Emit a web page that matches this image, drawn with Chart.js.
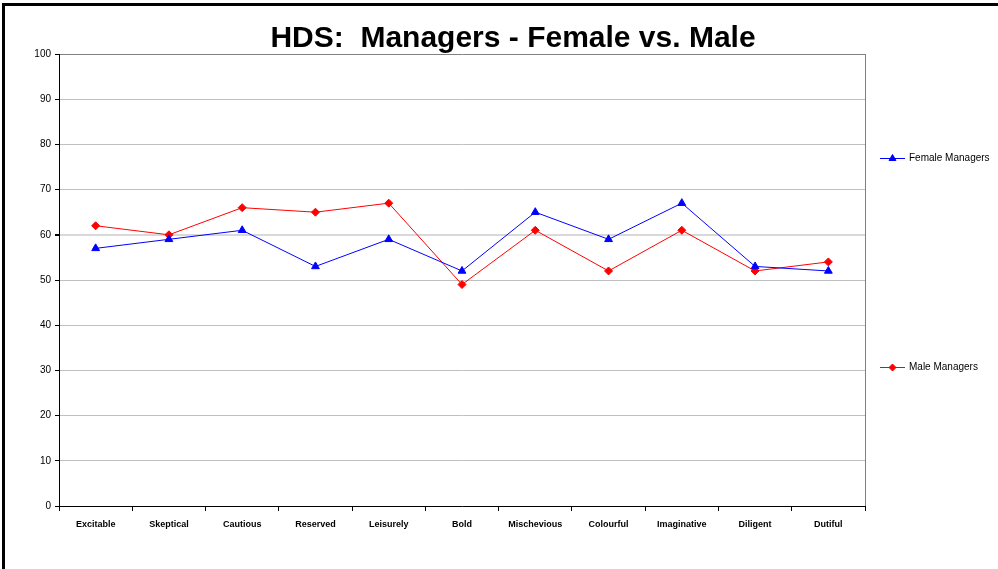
<!DOCTYPE html>
<html>
<head>
<meta charset="utf-8">
<script src="https://cdn.jsdelivr.net/npm/chart.js@4"></script>
<style>
  html, body { margin: 0; padding: 0; background: #fff; }
  #wrap { position: relative; width: 998px; height: 569px; }
</style>
</head>
<body>
<div id="wrap"><canvas id="hdsChart"></canvas></div>
<script>
// Scales / categories
const categories = ['Excitable', 'Skeptical', 'Cautious', 'Reserved', 'Leisurely', 'Bold',
    'Mischevious', 'Colourful', 'Imaginative', 'Diligent', 'Dutiful'];
const femaleManagers = [57, 59, 61, 53, 59, 52, 65, 59, 67, 53, 52];
const maleManagers = [62, 60, 66, 65, 67, 49, 61, 52, 61, 52, 54];
const yMin = 0;
const yMax = 100;
const yStep = 10;
const chartTitle = 'HDS:  Managers - Female vs. Male';

// frame, title, plot border and the odd spaced legend on the right
const extras = {
    id: 'extras',
    afterDraw(chart) {
        const ctx = chart.ctx;
        const area = chart.chartArea;
        ctx.save();
        // outer frame (top + left only, the rest is cut off)
        ctx.fillStyle = '#000';
        ctx.fillRect(2, 3, 996, 3);
        ctx.fillRect(2, 3, 3, 566);

        // title - centred on the whole picture, not on the plot
        ctx.font = 'bold 30px "Liberation Sans", Arial, sans-serif';
        ctx.textAlign = 'center';
        ctx.textBaseline = 'alphabetic';
        ctx.fillText(chartTitle, 513, 47);

        // right plot border
        ctx.strokeStyle = '#808080';
        ctx.lineWidth = 1;
        ctx.beginPath();
        ctx.moveTo(Math.round(area.right) + 0.5, area.top);
        ctx.lineTo(Math.round(area.right) + 0.5, area.bottom);
        ctx.stroke();

        // legend
        const rows = [158, 367];
        chart.data.datasets.forEach((ds, i) => {
            const y = rows[i] + 0.5;
            ctx.strokeStyle = ds.borderColor;
            ctx.fillStyle = ds.backgroundColor;
            ctx.lineWidth = 1;
            ctx.beginPath();
            ctx.moveTo(880, y);
            ctx.lineTo(905, y);
            ctx.stroke();
            Chart.helpers.drawPoint(ctx, {
                pointStyle: ds.pointStyle,
                radius: ds.pointRadius - 0.5,
                borderWidth: 1
            }, 892.5, y);
            ctx.fillStyle = '#000';
            ctx.font = '10px "Liberation Sans", Arial, sans-serif';
            ctx.textBaseline = 'middle';
            ctx.textAlign = 'left';
            ctx.fillText(ds.label, 909, y);
        });
        ctx.restore();
    }
};

new Chart(document.getElementById('hdsChart'), {
    type: 'line',
    data: {
        labels: categories,
        datasets: [{
            label: 'Female Managers',
            data: femaleManagers,
            borderColor: '#0000ff',
            backgroundColor: '#0000ff',
            borderWidth: 1,
            pointStyle: 'triangle',
            pointRadius: 4.5,
            pointBorderWidth: 1,
            tension: 0
        }, {
            label: 'Male Managers',
            data: maleManagers,
            borderColor: '#ff0000',
            backgroundColor: '#ff0000',
            borderWidth: 1,
            pointStyle: 'rectRot',
            pointRadius: 4,
            pointBorderWidth: 1,
            tension: 0
        }]
    },
    options: {
        responsive: true,
        maintainAspectRatio: false,
        animation: false,
        layout: { padding: { top: 54, right: 133, bottom: 0, left: 0 } },
        plugins: {
            legend: { display: false },
            tooltip: { enabled: false },
            title: { display: false }
        },
        scales: {
            x: {
                offset: true,
                afterFit(scale) { scale.height = 63; },
                grid: { offset: true, drawOnChartArea: false, tickLength: 5, color: '#000' },
                border: { color: '#000', width: 1 },
                ticks: {
                    color: '#000',
                    padding: 8,
                    maxRotation: 0,
                    autoSkip: false,
                    font: { family: '"Liberation Sans", Arial, sans-serif', size: 9, weight: 'bold' }
                }
            },
            y: {
                min: yMin,
                max: yMax,
                afterFit(scale) { scale.width = 59; },
                grid: {
                    color: c => c.tick.value === yMax ? '#808080' : (c.tick.value === 60 ? '#d9d9d9' : '#c0c0c0'),
                    lineWidth: c => c.tick.value === 60 ? 2 : 1,
                    tickColor: '#000',
                    tickLength: 4
                },
                border: { color: '#000', width: 1 },
                ticks: {
                    stepSize: yStep,
                    color: '#000',
                    padding: 4,
                    font: { family: '"Liberation Sans", Arial, sans-serif', size: 10 }
                }
            }
        }
    },
    plugins: [extras]
});
</script>
</body>
</html>
